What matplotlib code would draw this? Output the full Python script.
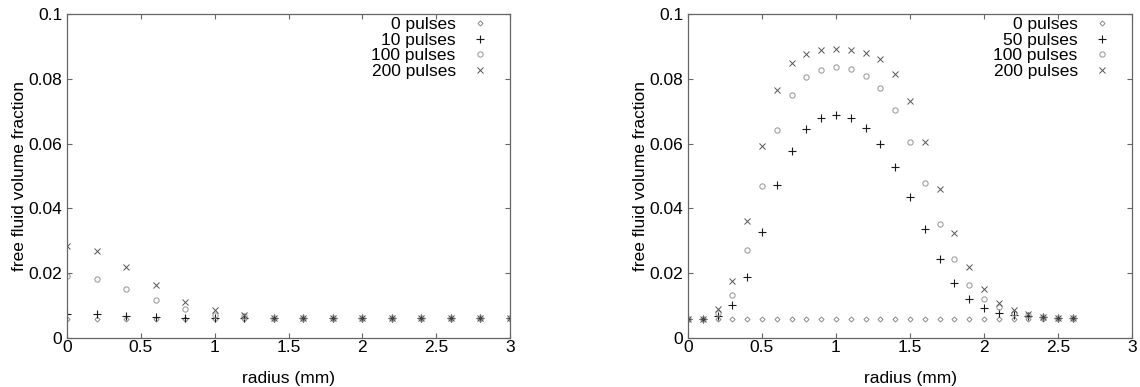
import matplotlib
matplotlib.use("Agg")
import matplotlib.pyplot as plt
from matplotlib.ticker import FuncFormatter, MultipleLocator

plt.rcParams['font.family'] = ['Liberation Sans', 'DejaVu Sans']
plt.rcParams['font.size'] = 12.5

# left panel: radius 0..3 mm step 0.2
r_left = [0.0, 0.2, 0.4, 0.6, 0.8, 1.0, 1.2, 1.4, 1.6, 1.8, 2.0, 2.2, 2.4, 2.6, 2.8, 3.0]
left_0 = [0.006] * 16
left_10 = [0.0074, 0.0075, 0.0069, 0.0066, 0.0063, 0.0063, 0.0062, 0.0061, 0.0061, 0.0061,
           0.0061, 0.0061, 0.0061, 0.0061, 0.0061, 0.0061]
left_100 = [0.0192, 0.0182, 0.0152, 0.0118, 0.0088, 0.0072, 0.0067, 0.0062, 0.0061, 0.0061,
            0.0061, 0.0061, 0.0061, 0.0061, 0.0061, 0.0061]
left_200 = [0.0284, 0.0269, 0.0218, 0.0165, 0.0111, 0.0086, 0.0071, 0.0062, 0.0062, 0.0061,
            0.0061, 0.0061, 0.0061, 0.0061, 0.0061, 0.0061]

# right panel: radius 0..2.6 mm step 0.1
r_right = [0.0, 0.1, 0.2, 0.3, 0.4, 0.5, 0.6, 0.7, 0.8, 0.9, 1.0, 1.1, 1.2, 1.3,
           1.4, 1.5, 1.6, 1.7, 1.8, 1.9, 2.0, 2.1, 2.2, 2.3, 2.4, 2.5, 2.6]
right_0 = [0.006] * 27
right_50 = [0.006, 0.006, 0.0068, 0.0102, 0.0188, 0.0328, 0.0471, 0.0578, 0.0644, 0.0678,
            0.0687, 0.0679, 0.0649, 0.0599, 0.0527, 0.0435, 0.0335, 0.0243, 0.0170, 0.0120,
            0.0092, 0.0076, 0.0070, 0.0067, 0.0064, 0.0062, 0.0061]
right_100 = [0.006, 0.006, 0.0077, 0.0134, 0.0271, 0.0470, 0.0643, 0.0751, 0.0807, 0.0828,
             0.0836, 0.0831, 0.0809, 0.0773, 0.0704, 0.0605, 0.0479, 0.0351, 0.0243, 0.0165,
             0.0119, 0.0097, 0.0076, 0.0070, 0.0064, 0.0062, 0.0061]
right_200 = [0.006, 0.006, 0.0089, 0.0176, 0.0362, 0.0594, 0.0766, 0.0849, 0.0877, 0.0888,
             0.0892, 0.0888, 0.0880, 0.0860, 0.0815, 0.0731, 0.0605, 0.0460, 0.0324, 0.0219,
             0.0150, 0.0108, 0.0085, 0.0074, 0.0065, 0.0062, 0.0061]

styles = [
    dict(marker='D', ms=2.6, mfc='none', mec='#8a8a8a', mew=0.7),
    dict(marker='+', ms=5.5, mec='#1a1a1a', mew=0.8),
    dict(marker='o', ms=3.8, mfc='none', mec='#a0a0a0', mew=0.8),
    dict(marker='x', ms=4.5, mec='#555555', mew=0.7),
]

fig = plt.figure(figsize=(11.4, 3.87), dpi=100)
ax1 = fig.add_axes([67 / 1140, 1 - 338 / 387, 443 / 1140, 324 / 387])
ax2 = fig.add_axes([688 / 1140, 1 - 338 / 387, 444 / 1140, 324 / 387])

panels = [
    (ax1, r_left, [left_0, left_10, left_100, left_200],
     ["0 pulses", "10 pulses", "100 pulses", "200 pulses"]),
    (ax2, r_right, [right_0, right_50, right_100, right_200],
     ["0 pulses", "50 pulses", "100 pulses", "200 pulses"]),
]

for ax, r, series, labels in panels:
    for ys, lab, st in zip(series, labels, styles):
        ax.plot(r, ys, linestyle='none', label=lab, **st)
    ax.set_xlim(0, 3)
    ax.set_ylim(0, 0.1)
    ax.xaxis.set_major_locator(MultipleLocator(0.5))
    ax.yaxis.set_major_locator(MultipleLocator(0.02))
    fmt = FuncFormatter(lambda v, p: '%g' % round(v, 4))
    ax.xaxis.set_major_formatter(fmt)
    ax.yaxis.set_major_formatter(fmt)
    ax.tick_params(direction='in', length=3.5, width=0.8, color='#666666',
                   top=True, right=True, labelsize=12.5)
    ax.tick_params(axis='x', pad=1.5)
    ax.tick_params(axis='y', pad=3.5)
    for s in ax.spines.values():
        s.set_color('#666666')
        s.set_linewidth(0.9)
    ax.set_xlabel("radius (mm)", fontsize=12.5)
    ax.set_ylabel("free fluid volume fraction", fontsize=12.5)
    ax.xaxis.set_label_coords(0.5, -0.102)
    ax.yaxis.set_label_coords(-0.090, 0.5)
    ax.legend(loc='upper right', bbox_to_anchor=(0.952, 0.99), frameon=False,
              markerfirst=False, borderpad=0, borderaxespad=0, handlelength=1.0,
              handletextpad=0.9, labelspacing=0.02, fontsize=12.5)

fig.savefig("out.png", dpi=100)
